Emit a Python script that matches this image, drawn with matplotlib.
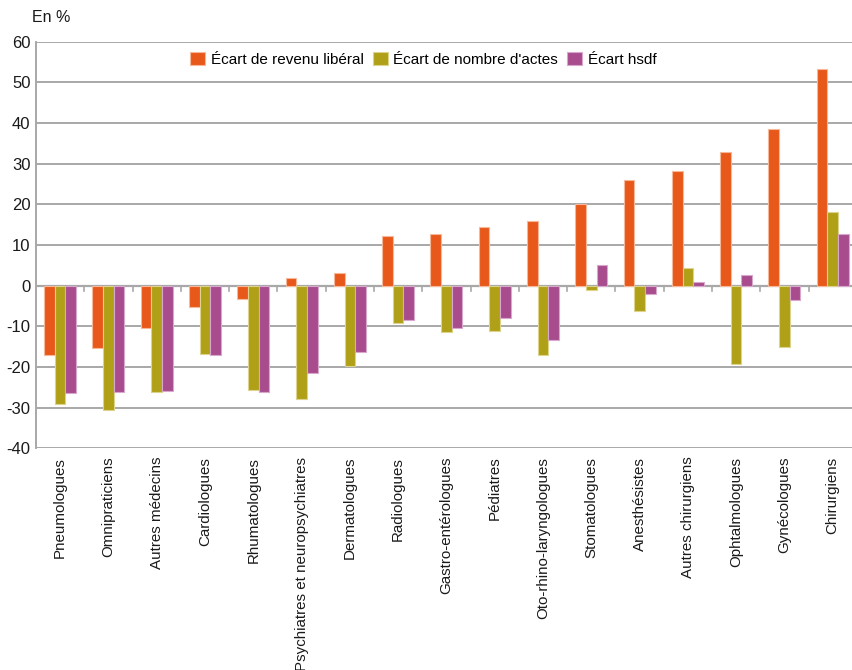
import numpy as np
import matplotlib
matplotlib.use("Agg")
import matplotlib.pyplot as plt

categories = [
    "Pneumologues", "Omnipraticiens", "Autres médecins", "Cardiologues",
    "Rhumatologues", "Psychiatres et neuropsychiatres", "Dermatologues",
    "Radiologues", "Gastro-entérologues", "Pédiatres", "Oto-rhino-laryngologues",
    "Stomatologues", "Anesthésistes", "Autres chirurgiens", "Ophtalmologues",
    "Gynécologues", "Chirurgiens",
]
ecart_revenu = [-17.0, -15.4, -10.5, -5.2, -3.3, 1.8, 3.0, 12.2, 12.8, 14.5,
                15.8, 20.0, 26.0, 28.3, 32.8, 38.5, 53.2]
ecart_actes = [-29.2, -30.5, -26.2, -16.7, -25.6, -27.9, -19.7, -9.2, -11.5,
               -11.1, -17.0, -1.0, -6.2, 4.3, -19.3, -15.1, 18.2]
ecart_hsdf = [-26.5, -26.2, -25.9, -17.0, -26.2, -21.6, -16.4, -8.5, -10.5,
              -7.9, -13.4, 5.0, -2.0, 1.0, 2.7, -3.6, 12.8]
series_names = ["Écart de revenu libéral", "Écart de nombre d'actes", "Écart hsdf"]
colors = ["#E8581A", "#B0A018", "#A84C8E"]
edge_colors = ["#F6B898", "#DCD38C", "#D8A8CC"]

plt.rcParams["font.family"] = ["Liberation Sans", "DejaVu Sans"]
plt.rcParams["axes.unicode_minus"] = False

fig = plt.figure(figsize=(8.53, 6.70), dpi=100)
W, H = 853, 670
left, right, top, bottom = 36, 853, 41.7, 448.3
ax = fig.add_axes([left / W, 1 - bottom / H, (right - left) / W, (bottom - top) / H])

x = np.arange(len(categories))
bw = 0.22
for i, (vals, c, ec, name) in enumerate(zip([ecart_revenu, ecart_actes, ecart_hsdf],
                                            colors, edge_colors, series_names)):
    ax.bar(x + (i - 1) * bw, vals, width=bw, color=c, edgecolor=ec,
           linewidth=0.8, label=name, zorder=3)

ax.set_ylim(-40, 60)
ax.set_xlim(-0.5, 16.42)
ax.set_yticks(np.arange(-40, 61, 10))
ax.tick_params(axis="y", length=0, labelsize=12, pad=4, colors="#1a1a1a")
ax.yaxis.grid(True, color="#A8A8A8", linewidth=1.4, zorder=0)
ax.set_axisbelow(True)

# category boundaries marked by small ticks under the zero line
for b in np.arange(0.5, len(categories) - 0.5, 1.0):
    ax.plot([b, b], [0, -1.4], color="#A8A8A8", linewidth=1.2, zorder=2,
            clip_on=False)
ax.axhline(0, color="#A8A8A8", linewidth=1.6, zorder=2)

ax.set_xticks(x)
ax.set_xticklabels(categories, rotation=90, fontsize=10.9, color="#1a1a1a")
ax.tick_params(axis="x", length=0, pad=6)

for side in ["top", "right", "bottom"]:
    ax.spines[side].set_visible(False)
ax.spines["left"].set_color("#A8A8A8")
ax.spines["left"].set_linewidth(1.4)

fig.text(32 / W, 1 - 18 / H, "En %", fontsize=11.5, va="center", ha="left",
         color="#1a1a1a")

leg = ax.legend(loc="upper center", bbox_to_anchor=(0.474, 1.0), ncol=3,
                frameon=False, fontsize=11, handlelength=1.0,
                handleheight=1.0, handletextpad=0.35, columnspacing=0.6,
                borderaxespad=0.25)

fig.savefig("out.png", dpi=100)
